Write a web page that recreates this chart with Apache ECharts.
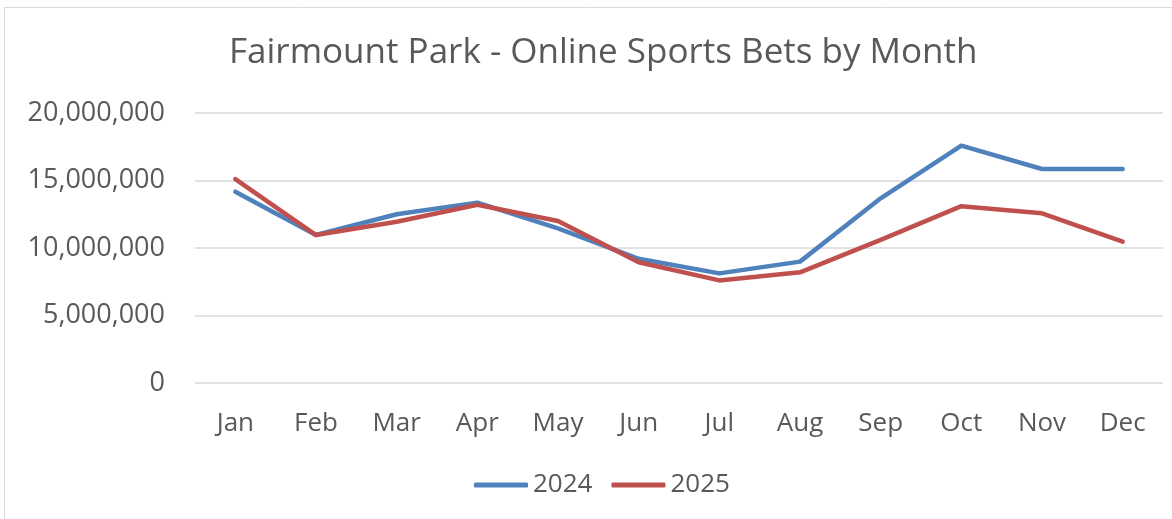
<!DOCTYPE html>
<html>
<head>
<meta charset="utf-8">
<script src="https://cdn.jsdelivr.net/npm/echarts@6/dist/echarts.min.js"></script>
<style>
  html, body { margin: 0; padding: 0; background: #fff; }
  #main { width: 1172px; height: 519px; }
</style>
</head>
<body>
<div id="main"></div>
<script>
var months = ['Jan', 'Feb', 'Mar', 'Apr', 'May', 'Jun', 'Jul', 'Aug', 'Sep', 'Oct', 'Nov', 'Dec'];
var bets2024 = [14170000, 10960000, 12500000, 13360000, 11460000, 9200000, 8120000, 8990000, 13680000, 17580000, 15850000, 15850000];
var bets2025 = [15100000, 10960000, 11950000, 13200000, 12000000, 8940000, 7600000, 8200000, 10600000, 13100000, 12570000, 10470000];

var chartDom = document.getElementById('main');
var myChart = echarts.init(chartDom);
var fontFam = '"Open Sans", "Noto Sans", sans-serif';

var option = {
  animation: false,
  textStyle: { fontFamily: fontFam },
  graphic: [
    {
      type: 'rect',
      shape: { x: 4.5, y: 7.5, width: 1200, height: 600 },
      style: { fill: 'none', stroke: '#d9d9d9', lineWidth: 1 }
    }
  ],
  title: {
    text: 'Fairmount Park - Online Sports Bets by Month',
    left: 224,
    top: 31,
    textStyle: { fontFamily: fontFam, fontSize: 35, fontWeight: 'normal', color: '#595959' }
  },
  legend: {
    top: 467,
    left: 469,
    icon: 'roundRect',
    itemWidth: 54,
    itemHeight: 5,
    itemGap: 19,
    textStyle: { fontFamily: fontFam, fontSize: 26, color: '#595959' },
    data: ['2024', '2025']
  },
  grid: { left: 195, right: 9, top: 113, bottom: 136 },
  xAxis: {
    type: 'category',
    data: months,
    boundaryGap: true,
    axisLine: { show: false },
    axisTick: { show: false },
    axisLabel: { fontSize: 26, color: '#595959', margin: 28, fontFamily: fontFam }
  },
  yAxis: {
    type: 'value',
    min: 0,
    max: 20000000,
    interval: 5000000,
    axisLine: { show: false },
    axisTick: { show: false },
    splitLine: { lineStyle: { color: '#d9d9d9', width: 1.5 } },
    axisLabel: {
      fontSize: 27,
      color: '#595959',
      margin: 30,
      fontFamily: fontFam,
      formatter: function (v) { return v.toLocaleString('en-US'); }
    }
  },
  series: [
    {
      name: '2024',
      type: 'line',
      data: bets2024,
      symbol: 'none',
      lineStyle: { color: '#4F81BD', width: 4.5, cap: 'round', join: 'round' },
      itemStyle: { color: '#4F81BD' }
    },
    {
      name: '2025',
      type: 'line',
      data: bets2025,
      symbol: 'none',
      lineStyle: { color: '#C0504D', width: 4.5, cap: 'round', join: 'round' },
      itemStyle: { color: '#C0504D' }
    }
  ]
};

option && myChart.setOption(option);
</script>
</body>
</html>
